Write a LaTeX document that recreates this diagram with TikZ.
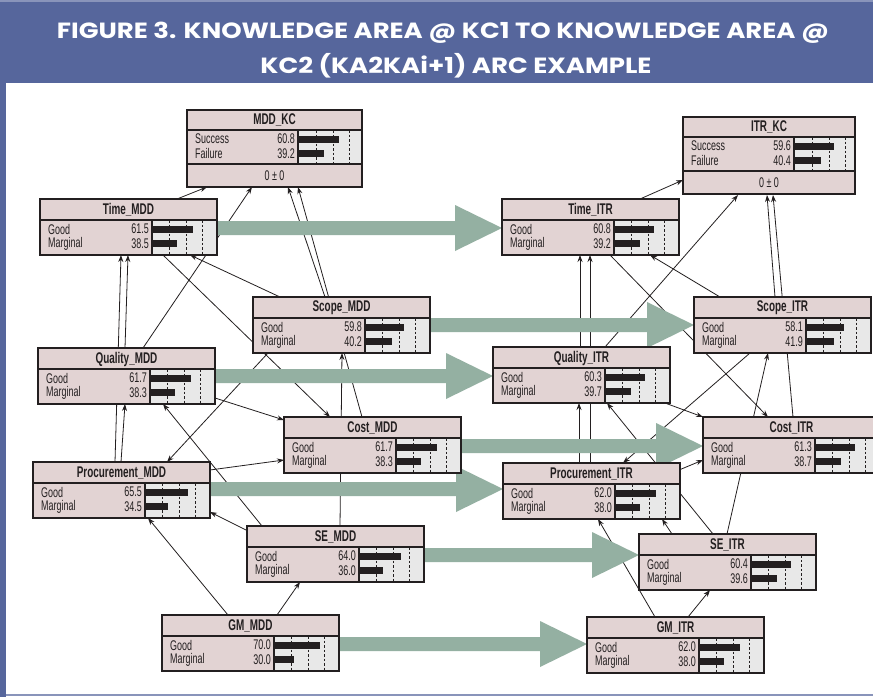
\documentclass[tikz,border=0pt]{standalone}
\usepackage{fontspec}
\setmainfont{Liberation Sans}
\newfontfamily\nf[FakeStretch=0.64]{Liberation Sans}
\newfontfamily\tf[FakeStretch=1.18]{Poppins}
\usetikzlibrary{calc,arrows.meta}
\pgfdeclarelayer{bg}\pgfdeclarelayer{mid}\pgfsetlayers{bg,mid,main}
\definecolor{hdr}{HTML}{56669C}
\definecolor{pinkc}{HTML}{E2D3D3}
\definecolor{barbg}{HTML}{E8E8E8}
\definecolor{gar}{HTML}{94B0A2}
\definecolor{ink}{HTML}{231F20}
\tikzset{
  anchorbox/.style={inner sep=0pt,outer sep=0pt,anchor=north west},
  frame/.style={draw=ink,line width=1.8pt},
  sep/.style={draw=ink,line width=1.2pt},
  tickline/.style={draw=ink,line width=0.8pt,dash pattern=on 2.5pt off 2pt},
  ttl/.style={font=\nf\bfseries\fontsize{15.5}{15.5}\selectfont,text=ink,inner sep=0pt},
  rowtxt/.style={font=\nf\fontsize{14}{14}\selectfont,text=ink,inner sep=0pt},
  edge/.style={draw=ink,line width=0.8pt,-{Stealth[length=7pt,width=5pt]}},
  garrow/.style={fill=gar},
}
% regular net node: name, x, y, title, label1, v1, label2, v2
\newcommand{\bnet}[8]{%
  \node[anchorbox,minimum width=177pt,minimum height=56pt] (#1) at (#2,#3) {};
  \fill[pinkc] (#2,#3) rectangle ++(177,56);
  \fill[barbg] (#2+112,#3+21) rectangle ++(65,35);
  \foreach \t in {17,34,50} \draw[tickline] (#2+112+\t,#3+21) -- ++(0,35);
  \fill[ink] (#2+112,#3+27) rectangle ++({#6*0.66},6.5);
  \fill[ink] (#2+112,#3+41) rectangle ++({#8*0.66},6.5);
  \draw[sep] (#2,#3+21) -- ++(177,0);
  \draw[sep] (#2+112,#3+21) -- ++(0,35);
  \draw[frame] (#2,#3) rectangle ++(177,56);
  \node[ttl] at (#2+88.5,#3+11) {#4};
  \node[rowtxt,anchor=west] at (#2+8,#3+30) {#5};
  \node[rowtxt,anchor=east] at (#2+109,#3+30) {#6};
  \node[rowtxt,anchor=west] at (#2+8,#3+44.5) {#7};
  \node[rowtxt,anchor=east] at (#2+109,#3+44.5) {#8};
}
% KC node: name, x, y, width, title, v1, v2
\newcommand{\kcnet}[7]{%
  \node[anchorbox,minimum width=#4pt,minimum height=77pt] (#1) at (#2,#3) {};
  \fill[pinkc] (#2,#3) rectangle ++(#4,77);
  \fill[barbg] (#2+111,#3+20) rectangle ++(#4-111,34);
  \foreach \t in {18,35,51} \draw[tickline] (#2+111+\t,#3+20) -- ++(0,34);
  \fill[ink] (#2+111,#3+26) rectangle ++({#6*0.67},6.5);
  \fill[ink] (#2+111,#3+40) rectangle ++({#7*0.67},6.5);
  \draw[sep] (#2,#3+20) -- ++(#4,0);
  \draw[sep] (#2,#3+54) -- ++(#4,0);
  \draw[sep] (#2+111,#3+20) -- ++(0,34);
  \draw[frame] (#2,#3) rectangle ++(#4,77);
  \node[ttl] at (#2+#4/2,#3+10.5) {#5};
  \node[rowtxt,anchor=west] at (#2+8,#3+29) {Success};
  \node[rowtxt,anchor=east] at (#2+108,#3+29) {#6};
  \node[rowtxt,anchor=west] at (#2+8,#3+43.5) {Failure};
  \node[rowtxt,anchor=east] at (#2+108,#3+43.5) {#7};
  \node[rowtxt] at (#2+#4/2,#3+66) {0\,±\,0};
}
% connector: from node #1 offset (#2,#3) to node #4 offset (#5,#6), offsets from north west
\newcommand{\ed}[6]{\draw[edge] ([shift={(#2,#3)}]#1.north west) -- ([shift={(#5,#6)}]#4.north west);}
% green transfer arrow: from node #1 east edge to node #2 west edge at height #3
\newcommand{\garr}[3]{%
  \path (#1.east) coordinate (gs) (#2.west) coordinate (ge);
  \fill[garrow] (gs |- 0,#3-7) -- ($(ge |- 0,#3-7)+(-47,0)$) -- ($(ge |- 0,#3-23)+(-47,0)$)
     -- (ge |- 0,#3) -- ($(ge |- 0,#3+23)+(-47,0)$) -- ($(ge |- 0,#3+7)+(-47,0)$)
     -- (gs |- 0,#3+7) -- cycle;}
\begin{document}
\begin{tikzpicture}[x=1pt,y=-1pt]
\useasboundingbox (0,0) rectangle (873,697);
\clip (0,0) rectangle (873,697);
\begin{pgfonlayer}{bg}
\fill[white] (0,0) rectangle (873,697);
\end{pgfonlayer}
% header
\fill[hdr] (0,0) rectangle (873,83);
\draw[hdr!70!white,line width=1.5pt] (0,1) -- (873,1);
\fill[hdr] (0,83) rectangle (6,697);
\draw[hdr!70!white,line width=1.5pt] (6,695) -- (873,695);
\node[text=white,font=\tf\bfseries\fontsize{22}{22}\selectfont,inner sep=0pt,anchor=base] (t1) at (443,38) {FIGURE 3. KNOWLEDGE AREA @ KC1 TO KNOWLEDGE AREA @};
\node[text=white,font=\tf\bfseries\fontsize{22}{22}\selectfont,inner sep=0pt,anchor=base] (t2) at (456,73) {KC2 (KA2KAi+1) ARC EXAMPLE};
% MDD side
\kcnet{mk}{187}{110}{175}{MDD\_KC}{60.8}{39.2}
\bnet{tm}{40}{199}{Time\_MDD}{Good}{61.5}{Marginal}{38.5}
\bnet{sm}{253}{297}{Scope\_MDD}{Good}{59.8}{Marginal}{40.2}
\bnet{qm}{38}{348}{Quality\_MDD}{Good}{61.7}{Marginal}{38.3}
\bnet{cm}{284}{417}{Cost\_MDD}{Good}{61.7}{Marginal}{38.3}
\bnet{pm}{33}{462}{Procurement\_MDD}{Good}{65.5}{Marginal}{34.5}
\bnet{em}{247}{526}{SE\_MDD}{Good}{64.0}{Marginal}{36.0}
\bnet{gm}{162}{615}{GM\_MDD}{Good}{70.0}{Marginal}{30.0}
% ITR side
\kcnet{ik}{683}{117}{172}{ITR\_KC}{59.6}{40.4}
\bnet{ti}{502}{199}{Time\_ITR}{Good}{60.8}{Marginal}{39.2}
\bnet{si}{694}{297}{Scope\_ITR}{Good}{58.1}{Marginal}{41.9}
\bnet{qi}{493}{347}{Quality\_ITR}{Good}{60.3}{Marginal}{39.7}
\bnet{ci}{703}{417}{Cost\_ITR}{Good}{61.3}{Marginal}{38.7}
\bnet{pi}{503}{463}{Procurement\_ITR}{Good}{62.0}{Marginal}{38.0}
\bnet{ei}{639}{534}{SE\_ITR}{Good}{60.4}{Marginal}{39.6}
\bnet{gi}{587}{617}{GM\_ITR}{Good}{62.0}{Marginal}{38.0}
\begin{pgfonlayer}{bg}
% MDD connectors
\ed{tm}{137}{0}{mk}{20}{77}
\ed{qm}{105}{0}{mk}{65}{77}
\ed{sm}{72}{0}{mk}{101}{77}
\ed{cm}{78}{0}{mk}{111}{77}
\ed{sm}{27}{0}{tm}{150}{56}
\ed{qm}{87}{0}{tm}{88}{56}
\ed{pm}{82}{0}{tm}{81}{56}
\ed{pm}{88}{0}{qm}{87}{56}
\ed{em}{15}{0}{qm}{125}{56}
\ed{tm}{123}{56}{cm}{46}{0}
\ed{qm}{177}{50}{cm}{0}{3}
\ed{pm}{177}{8}{cm}{0}{43}
\ed{sm}{15}{56}{pm}{134}{0}
\ed{em}{3}{6}{pm}{177}{50}
\ed{gm}{66}{0}{pm}{115}{56}
\ed{gm}{115}{0}{em}{53}{56}
\ed{em}{93}{0}{sm}{89}{56}
% ITR connectors
\ed{ti}{138}{0}{ik}{0}{63}
\ed{qi}{112}{0}{ik}{55}{78}
\ed{si}{81}{0}{ik}{84}{78}
\ed{ci}{90}{0}{ik}{90}{78}
\ed{si}{26}{0}{ti}{148}{56}
\ed{qi}{87}{0}{ti}{78}{56}
\ed{pi}{87}{0}{ti}{88}{56}
\ed{pi}{76}{0}{qi}{86}{56}
\ed{ei}{74}{0}{qi}{114}{56}
\ed{ti}{108}{56}{ci}{65}{0}
\ed{qi}{172}{56}{ci}{0}{0}
\ed{pi}{176}{7}{ci}{0}{43}
\ed{si}{56}{56}{pi}{120}{0}
\ed{ei}{33}{0}{pi}{159}{56}
\ed{gi}{68}{0}{pi}{95}{56}
\ed{gi}{101}{0}{ei}{71}{56}
\ed{ei}{88}{0}{si}{74}{56}
\end{pgfonlayer}
\begin{pgfonlayer}{mid}
\garr{tm}{ti}{228}
\garr{sm}{si}{325}
\garr{qm}{qi}{376}
\garr{cm}{ci}{446}
\garr{pm}{pi}{489}
\garr{em}{ei}{555}
\garr{gm}{gi}{644}
\end{pgfonlayer}
\end{tikzpicture}
\end{document}
